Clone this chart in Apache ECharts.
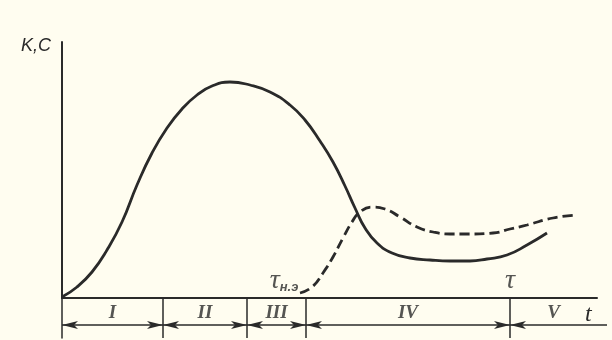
<!DOCTYPE html>
<html>
<head>
<meta charset="utf-8">
<script src="https://cdn.jsdelivr.net/npm/echarts@6/dist/echarts.min.js"></script>
<style>html,body{margin:0;padding:0;background:#fffdf0;}#c{width:612px;height:340px;}</style>
</head>
<body>
<div id="c"></div>
<script>
// Curve K (solid): [t, value]
var curveK = [[0,1],[15,11],[30,26],[45,48],[60,76],[75,113],[90,145],[105,170],[120,189],[135,203],[150,212],[168,216],[188,213],[208,206],[228,193],[243,178],[258,157],[271,136],[283,112],[293,90],[303,70],[315,55],[330,45],[348,40],[368,38],[388,37],[408,37],[425,39],[445,43],[465,53],[485,65]];
// Curve C (dashed): [t, value]
var curveC = [[238,5],[250,11],[261,25],[271,41],[281,60],[290,76],[298,86],[310,91],[323,89],[338,81],[355,71],[371,66],[388,64],[405,64],[431,65],[448,69],[465,73],[491,80],[515,83]];
// Stage boundaries along t
var stageBounds = [0, 101, 185, 244, 448];
var stageLabels = ['I', 'II', 'III', 'IV', 'V'];
var axisEnd = 535;
var dimEnd = 545;
var tauNE = 238;
var tauEnd = 448;

var ink = '#2a2a2a';

var segs = [];
for (var i = 0; i < stageBounds.length; i++) {
  var a = stageBounds[i];
  var b = (i + 1 < stageBounds.length) ? stageBounds[i+1] : dimEnd;
  var seg = [{coord:[a,13]},{coord:[b,13]}];
  if (i === stageBounds.length - 1) seg[1].symbol = 'none';
  segs.push(seg);
}
var numerals = stageLabels.map(function(n, i){
  var a = stageBounds[i];
  var b = (i + 1 < stageBounds.length) ? stageBounds[i+1] : axisEnd;
  return {name:n, value:[(a+b)/2, 25]};
});

var chart = echarts.init(document.getElementById('c'));
chart.setOption({
  backgroundColor:'#fffdf0',
  animation:false,
  grid:[
    {left:62, top:42, width:535, height:256},
    {left:62, top:298, width:545, height:40}
  ],
  xAxis:[
    {gridIndex:0, type:'value', min:0, max:axisEnd, axisLine:{show:true, onZero:false, lineStyle:{color:ink, width:2}}, axisTick:{show:false}, axisLabel:{show:false}, splitLine:{show:false}},
    {gridIndex:1, type:'value', min:0, max:dimEnd, axisLine:{show:false}, axisTick:{show:false}, axisLabel:{show:false}, splitLine:{show:false}}
  ],
  yAxis:[
    {gridIndex:0, type:'value', min:0, max:256, axisLine:{show:true, onZero:false, lineStyle:{color:ink, width:2}}, axisTick:{show:false}, axisLabel:{show:false}, splitLine:{show:false}},
    {gridIndex:1, type:'value', min:0, max:40, axisLine:{show:true, onZero:false, lineStyle:{color:ink, width:1.5}}, axisTick:{show:false}, axisLabel:{show:false}, splitLine:{show:false}}
  ],
  series:[
    {type:'line', xAxisIndex:0, yAxisIndex:0, data:curveK, smooth:0.5, showSymbol:false, lineStyle:{color:ink, width:2.8}},
    {type:'line', xAxisIndex:0, yAxisIndex:0, data:curveC, smooth:0.5, showSymbol:false, lineStyle:{color:ink, width:2.8, type:[10,5]}},
    {type:'scatter', xAxisIndex:0, yAxisIndex:0, symbolSize:0, silent:true,
      data:[{name:'τ', value:[tauEnd,17]}, {name:'ne', value:[tauNE-16,17]}],
      label:{show:true, position:'inside', fontSize:28, fontFamily:'Liberation Serif', fontStyle:'italic', color:ink,
        formatter:function(p){ return p.name === 'τ' ? '{t|τ}' : '{t|τ}{s|н.э}'; },
        rich:{t:{fontSize:28, fontFamily:'Liberation Serif', fontStyle:'italic', color:ink},
              s:{fontFamily:'Liberation Sans', fontSize:13, fontWeight:'bold', color:ink, padding:[12,0,0,0]}}
      }
    },
    {type:'line', xAxisIndex:1, yAxisIndex:1, data:[], silent:true,
      markLine:{silent:true, symbol:'none', label:{show:false}, lineStyle:{color:ink, width:1.5, type:'solid'},
        data:stageBounds.slice(1).map(function(v){ return {xAxis:v}; })}
    },
    {type:'line', xAxisIndex:1, yAxisIndex:1, data:[], silent:true,
      markLine:{silent:true, symbol:['arrow','arrow'], symbolSize:[6,16], label:{show:false}, lineStyle:{color:ink, width:1.5, type:'solid'}, itemStyle:{color:ink},
        data:segs}
    },
    {type:'scatter', xAxisIndex:1, yAxisIndex:1, symbolSize:0, silent:true, data:numerals,
      label:{show:true, position:'inside', formatter:'{b}', fontFamily:'Liberation Serif', fontStyle:'italic', fontWeight:'bold', fontSize:19, color:ink}
    }
  ],
  graphic:[
    {type:'text', left:21, top:37, style:{text:'K,C', font:'italic 18px "Liberation Sans"', fill:ink}},
    {type:'text', left:585, top:303, style:{text:'t', font:'italic 24px "Liberation Serif"', fill:ink}}
  ]
});
</script>
</body>
</html>
